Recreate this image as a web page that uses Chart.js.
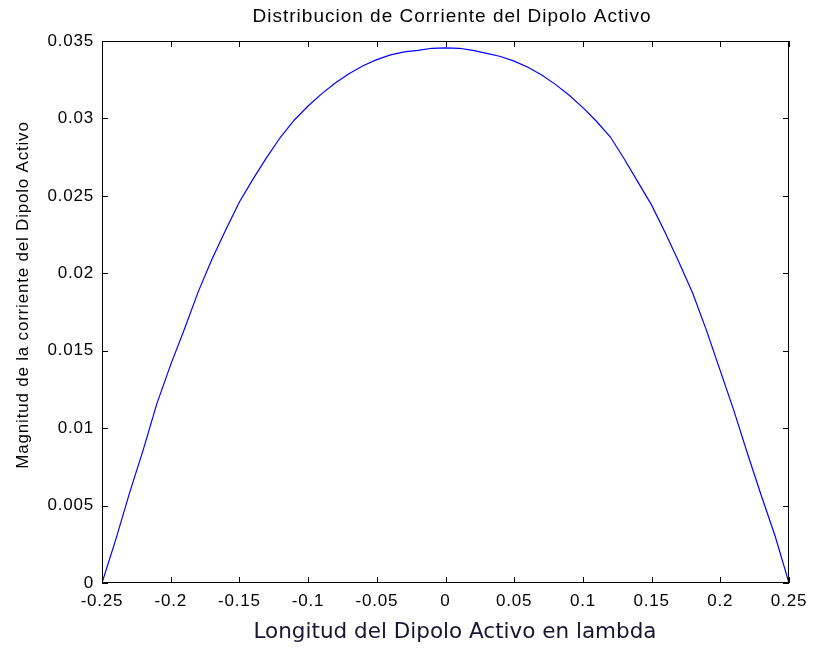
<!DOCTYPE html>
<html>
<head>
<meta charset="utf-8">
<title>Distribucion de Corriente del Dipolo Activo</title>
<script src="https://cdn.jsdelivr.net/npm/chart.js@4.4.1/dist/chart.umd.min.js"></script>
<style>
    body { margin: 0; background: #fff; }
    #wrap { width: 815px; height: 650px; }
</style>
</head>
<body>
<div id="wrap"><canvas id="dipoleChart" width="815" height="650"></canvas></div>
<script>
// Positions along the dipole (in lambda) and current magnitude at each one
const positions = [
    -0.25, -0.24, -0.23, -0.22, -0.21, -0.20, -0.19, -0.18, -0.17, -0.16,
    -0.15, -0.14, -0.13, -0.12, -0.11, -0.10, -0.09, -0.08, -0.07, -0.06,
    -0.05, -0.04, -0.03, -0.02, -0.01, 0.00, 0.01, 0.02, 0.03, 0.04,
    0.05, 0.06, 0.07, 0.08, 0.09, 0.10, 0.11, 0.12, 0.13, 0.14,
    0.15, 0.16, 0.17, 0.18, 0.19, 0.20, 0.21, 0.22, 0.23, 0.24, 0.25
];
const currentMag = [
    0, 0.0028, 0.0058, 0.0086, 0.0116, 0.0141, 0.0164, 0.0188, 0.0209, 0.0228,
    0.0246, 0.0261, 0.0275, 0.0288, 0.0299, 0.0308, 0.0316, 0.0323, 0.0329, 0.0334,
    0.0338, 0.0341, 0.0343, 0.0344, 0.03453, 0.03455, 0.03453, 0.0344, 0.0342, 0.0340,
    0.0337, 0.0333, 0.0328, 0.0322, 0.0315, 0.0307, 0.0298, 0.0288, 0.0274, 0.0259,
    0.0244, 0.0226, 0.0207, 0.0187, 0.0163, 0.0137, 0.0111, 0.0083, 0.0056, 0.0030, 0
];

// Axis limits and tick spacing
const xRange = [-0.25, 0.25];
const xStep = 0.05;
const yRange = [0, 0.035];
const yStep = 0.005;

const titleText = 'Distribucion de Corriente del Dipolo Activo';
const xLabelText = 'Longitud del Dipolo Activo en lambda';
const yLabelText = 'Magnitud de la corriente del Dipolo Activo';

const fontFamily = '"Liberation Sans", Arial, Helvetica, sans-serif';

function fmtTick(v) {
    return parseFloat(v.toFixed(4)).toString();
}

// Box around the axes, inward tick marks, and the three text labels
const axesFrame = {
    id: 'axesFrame',
    beforeDraw(chart) {
        const ctx = chart.ctx;
        ctx.save();
        ctx.fillStyle = '#fff';
        ctx.fillRect(0, 0, chart.width, chart.height);
        ctx.restore();
        // slightly wider spacing for the tick numbers
        ctx.letterSpacing = '0.8px';
    },
    afterDraw(chart) {
        const ctx = chart.ctx;
        const a = chart.chartArea;
        const xs = chart.scales.x;
        const ys = chart.scales.y;
        const tick = 6;

        ctx.save();
        ctx.strokeStyle = '#000';
        ctx.lineWidth = 1;
        ctx.strokeRect(a.left + 0.5, a.top + 0.5, a.right - a.left - 1, a.bottom - a.top - 1);

        ctx.beginPath();
        xs.ticks.forEach(t => {
            const px = Math.round(xs.getPixelForValue(t.value)) + 0.5;
            ctx.moveTo(px, a.bottom);
            ctx.lineTo(px, a.bottom - tick);
            ctx.moveTo(px, a.top);
            ctx.lineTo(px, a.top + tick);
        });
        ys.ticks.forEach(t => {
            const py = Math.round(ys.getPixelForValue(t.value)) + 0.5;
            ctx.moveTo(a.left, py);
            ctx.lineTo(a.left + tick, py);
            ctx.moveTo(a.right, py);
            ctx.lineTo(a.right - tick, py);
        });
        ctx.stroke();

        ctx.fillStyle = '#000';
        ctx.textAlign = 'center';
        ctx.textBaseline = 'middle';

        // title
        ctx.letterSpacing = '1px';
        ctx.font = '19px ' + fontFamily;
        ctx.fillText(titleText, 452, 17);

        // y label, rotated
        ctx.letterSpacing = '0.8px';
        ctx.font = '17px ' + fontFamily;
        ctx.save();
        ctx.translate(23, 295);
        ctx.rotate(-Math.PI / 2);
        ctx.fillText(yLabelText, 0, 0);
        ctx.restore();

        // x label
        ctx.letterSpacing = '0px';
        ctx.fillStyle = '#1a1430';
        ctx.font = '21.5px "DejaVu Sans", Verdana, sans-serif';
        ctx.fillText(xLabelText, 455, 632);
        ctx.restore();
    }
};

const points = positions.map((p, i) => ({ x: p, y: currentMag[i] }));

const chart = new Chart(document.getElementById('dipoleChart').getContext('2d'), {
    type: 'line',
    data: {
        datasets: [{
            data: points,
            borderColor: '#0000ff',
            borderWidth: 1.2,
            pointRadius: 0,
            tension: 0,
            fill: false
        }]
    },
    options: {
        responsive: false,
        animation: false,
        events: [],
        layout: {
            padding: { top: 41, right: 26, left: 0, bottom: 0 }
        },
        plugins: {
            legend: { display: false },
            tooltip: { enabled: false },
            title: { display: false }
        },
        scales: {
            x: {
                type: 'linear',
                min: xRange[0],
                max: xRange[1],
                grid: { display: false, drawTicks: false },
                border: { display: false },
                ticks: {
                    stepSize: xStep,
                    color: '#000',
                    padding: 8,
                    maxRotation: 0,
                    autoSkip: false,
                    font: { family: fontFamily, size: 17 },
                    callback: v => fmtTick(v)
                },
                afterFit: s => { s.height = 67; }
            },
            y: {
                type: 'linear',
                min: yRange[0],
                max: yRange[1],
                grid: { display: false, drawTicks: false },
                border: { display: false },
                ticks: {
                    stepSize: yStep,
                    color: '#000',
                    padding: 8,
                    autoSkip: false,
                    font: { family: fontFamily, size: 17 },
                    callback: v => fmtTick(v)
                },
                afterFit: s => { s.width = 102; }
            }
        }
    },
    plugins: [axesFrame]
});
</script>
</body>
</html>
